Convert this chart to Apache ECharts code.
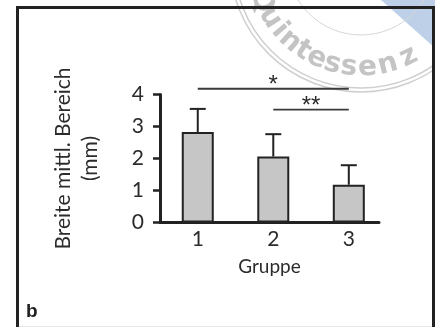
<!DOCTYPE html>
<html>
<head>
<meta charset="utf-8">
<script src="https://cdn.jsdelivr.net/npm/echarts@6/dist/echarts.min.js"></script>
<style>
  html, body { margin: 0; padding: 0; background: #fff; }
  #chart { width: 435px; height: 327px; }
</style>
</head>
<body>
<div id="chart"></div>
<script>
const groups = ["1", "2", "3"];
const means = [2.83, 2.06, 1.18];
const upperErr = [3.55, 2.76, 1.79];
const yTicks = [0, 1, 2, 3, 4];
// significance brackets: from group, to group, height, label
const sigFrom = [1, 2];
const sigTo = [3, 3];
const sigHeight = [4.18, 3.53];
const sigLabel = ["*", "**"];

const FONT = "Lato";
const INK = "#222";

// watermark stamp (decoration only)
const stampLetters = "Quintessenz".split("");
const stampAngles = [158, 148, 139.5, 131.5, 123, 114.5, 105.5, 96.5, 86.5, 75.5, 63.5];
const stampC = [361, -39];
const stampR = 107;

const chart = echarts.init(document.getElementById("chart"));

const stamp = [
  {
    type: "polygon", z: 0,
    shape: { points: [[381, 0], [435, 0], [435, 48]] },
    style: { fill: "#bdd0e8" }
  },
  {
    type: "circle", z: 0,
    shape: { cx: stampC[0], cy: stampC[1], r: 127 },
    style: { fill: null, stroke: "#cfcfcf", lineWidth: 1.5 }
  },
  {
    type: "circle", z: 0,
    shape: { cx: stampC[0], cy: stampC[1], r: 131 },
    style: { fill: null, stroke: "#cfcfcf", lineWidth: 1.5 }
  },
  {
    type: "circle", z: 0,
    shape: { cx: stampC[0], cy: stampC[1], r: 74 },
    style: { fill: null, stroke: "#d6d6d6", lineWidth: 1 }
  }
].concat(stampLetters.map((ch, i) => {
  const a = stampAngles[i] * Math.PI / 180;
  return {
    type: "text", z: 0,
    x: stampC[0] + stampR * Math.cos(a),
    y: stampC[1] + stampR * Math.sin(a),
    rotation: -(stampAngles[i] - 90) * Math.PI / 180,
    style: {
      text: ch, x: 0, y: 0, align: "center", verticalAlign: "middle",
      font: "bold 28px 'DejaVu Sans'", fill: "#c4c4c4"
    }
  };
}));

const option = {
  animation: false,
  grid: { left: 160, top: 94.5, width: 219, height: 128 },
  xAxis: {
    type: "value",
    min: 0.5,
    max: 3.4,
    name: "Gruppe",
    nameLocation: "middle",
    nameGap: 35,
    nameTextStyle: { fontFamily: FONT, fontSize: 19, color: "#2b2b2b" },
    axisLine: { lineStyle: { color: INK, width: 3 } },
    axisTick: { show: false },
    splitLine: { show: false },
    axisLabel: {
      customValues: [1, 2, 3],
      formatter: (v) => groups[Math.round(v) - 1],
      margin: 6,
      fontFamily: FONT,
      fontSize: 21,
      color: "#2b2b2b"
    }
  },
  yAxis: {
    type: "value",
    min: yTicks[0],
    max: yTicks[yTicks.length - 1],
    interval: 1,
    name: "Breite mittl. Bereich\n(mm)",
    nameLocation: "middle",
    nameRotate: 90,
    nameGap: 56,
    nameTextStyle: { fontFamily: FONT, fontSize: 21, lineHeight: 27, color: "#2b2b2b", align: "center" },
    axisLine: { show: true, lineStyle: { color: INK, width: 3 } },
    axisTick: { show: true, length: 7, lineStyle: { color: INK, width: 2.5 } },
    splitLine: { show: false },
    axisLabel: { margin: 16, fontFamily: FONT, fontSize: 21, color: "#2b2b2b" }
  },
  series: [
    {
      type: "bar",
      data: groups.map((g, i) => [i + 1, means[i]]),
      barWidth: 32,
      itemStyle: { color: "#c6c6c6", borderColor: INK, borderWidth: 2 },
      z: 2
    },
    {
      type: "custom",
      data: groups.map((g, i) => [i + 1, means[i], upperErr[i]]),
      z: 3,
      renderItem: (params, api) => {
        const base = api.coord([api.value(0), api.value(1)]);
        const top = api.coord([api.value(0), api.value(2)]);
        const half = 8;
        return {
          type: "group",
          children: [
            {
              type: "line",
              shape: { x1: base[0], y1: base[1], x2: top[0], y2: top[1] },
              style: { stroke: INK, lineWidth: 2 }
            },
            {
              type: "line",
              shape: { x1: top[0] - half, y1: top[1], x2: top[0] + half, y2: top[1] },
              style: { stroke: INK, lineWidth: 2 }
            }
          ]
        };
      }
    },
    {
      type: "custom",
      data: sigFrom.map((f, i) => [f, sigTo[i], sigHeight[i]]),
      z: 3,
      renderItem: (params, api) => {
        const a = api.coord([api.value(0), api.value(2)]);
        const b = api.coord([api.value(1), api.value(2)]);
        return {
          type: "group",
          children: [
            {
              type: "line",
              shape: { x1: a[0], y1: a[1], x2: b[0], y2: b[1] },
              style: { stroke: "#3a3a3a", lineWidth: 1.8 }
            },
            {
              type: "text",
              x: (a[0] + b[0]) / 2,
              y: a[1] - 3,
              style: {
                text: sigLabel[params.dataIndex],
                align: "center",
                verticalAlign: "middle",
                font: "24px 'Liberation Sans'",
                fill: "#2b2b2b"
              }
            }
          ]
        };
      }
    }
  ],
  graphic: stamp.concat([
    {
      type: "rect", z: 100,
      shape: { x: 17.5, y: 7.5, width: 416, height: 340 },
      style: { fill: null, stroke: INK, lineWidth: 3 }
    },
    {
      type: "line", z: 100,
      shape: { x1: 19, y1: 326.5, x2: 432, y2: 326.5 },
      style: { stroke: "#e6e6e6", lineWidth: 1 }
    },
    {
      type: "text", z: 100,
      x: 26, y: 312,
      style: {
        text: "b", verticalAlign: "middle",
        font: "bold 19px 'Liberation Sans'", fill: INK
      }
    }
  ])
};

chart.setOption(option);
</script>
</body>
</html>
